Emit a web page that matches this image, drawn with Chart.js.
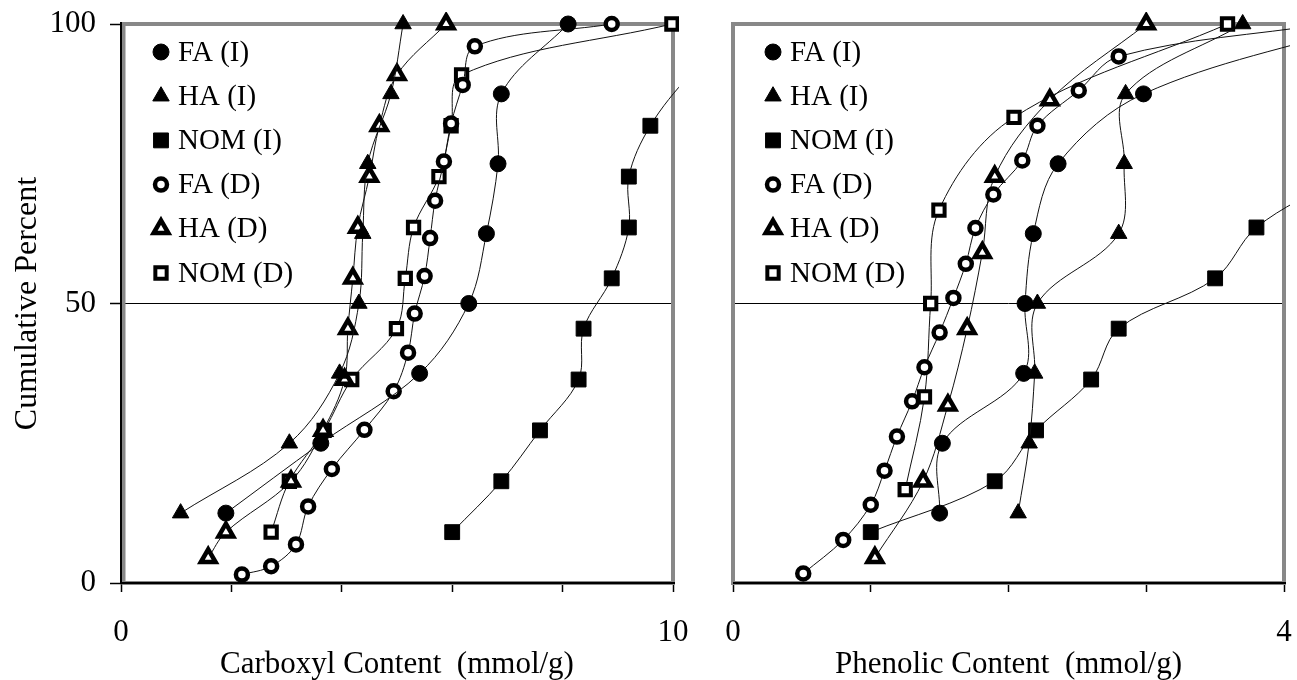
<!DOCTYPE html>
<html>
<head>
<meta charset="utf-8">
<script src="https://cdn.jsdelivr.net/npm/chart.js@4/dist/chart.umd.min.js"></script>
<style>
  html, body { margin: 0; padding: 0; background: #fff; }
  #left { position: absolute; left: 0; top: 0; width: 700px; height: 680px; }
  #right { position: absolute; left: 700px; top: 0; width: 597px; height: 680px; }
</style>
</head>
<body>
<div id="left"><canvas id="carboxylChart"></canvas></div>
<div id="right"><canvas id="phenolicChart"></canvas></div>
<script>
// series names, same order in both panels
const seriesNames = ['FA (I)', 'HA (I)', 'NOM (I)', 'FA (D)', 'HA (D)', 'NOM (D)'];

// Carboxyl content (mmol/g) vs cumulative percent, [x, y]
const carbFA_I = [[1.9, 12.5], [3.62, 25], [5.41, 37.5], [6.3, 50], [6.62, 62.5], [6.83, 75], [6.89, 87.5], [8.1, 100]];
const carbHA_I = [[1.08, 12.5], [3.05, 25], [3.96, 37.5], [4.31, 50], [4.38, 62.5], [4.47, 75], [4.89, 87.5], [5.11, 100]];
const carbNOM_I = [[6.0, 9.1], [6.89, 18.2], [7.59, 27.3], [8.29, 36.4], [8.38, 45.5], [8.89, 54.5], [9.2, 63.6], [9.2, 72.7], [9.59, 81.8], [10.3, 90.9], [11.2, 100]];
const carbFA_D = [[2.19, 1.5], [2.72, 3.0], [3.17, 6.9], [3.39, 13.7], [3.82, 20.4], [4.41, 27.4], [4.94, 34.3], [5.2, 41.2], [5.32, 48.2], [5.5, 54.9], [5.6, 61.7], [5.69, 68.4], [5.85, 75.4], [5.98, 82.2], [6.19, 89.1], [6.41, 96.0], [8.89, 100]];
const carbHA_D = [[1.58, 4.5], [1.9, 9.1], [3.08, 18.2], [3.66, 27.3], [4.05, 36.4], [4.11, 45.5], [4.2, 54.5], [4.29, 63.6], [4.5, 72.7], [4.68, 81.8], [5.0, 90.9], [5.89, 100]];
const carbNOM_D = [[2.72, 9.1], [3.05, 18.2], [3.68, 27.3], [4.18, 36.4], [4.99, 45.5], [5.15, 54.5], [5.3, 63.6], [5.76, 72.7], [5.98, 81.8], [6.17, 90.9], [9.98, 100]];

// Phenolic content (mmol/g) vs cumulative percent, [x, y]
const phenFA_I = [[1.5, 12.5], [1.52, 25], [2.11, 37.5], [2.12, 50], [2.18, 62.5], [2.36, 75], [2.98, 87.5], [4.6, 100]];
const phenHA_I = [[2.07, 12.5], [2.15, 25], [2.19, 37.5], [2.21, 50], [2.8, 62.5], [2.84, 75], [2.85, 87.5], [3.7, 100]];
const phenNOM_I = [[1.0, 9.1], [1.9, 18.2], [2.2, 27.3], [2.6, 36.4], [2.8, 45.5], [3.5, 54.5], [3.8, 63.6], [4.4, 72.7], [4.9, 81.8], [5.4, 90.9], [6.0, 100]];
const phenFA_D = [[0.51, 1.7], [0.8, 7.7], [1.0, 14], [1.1, 20.1], [1.19, 26.2], [1.3, 32.5], [1.39, 38.6], [1.5, 44.8], [1.6, 51], [1.69, 57.1], [1.76, 63.5], [1.89, 69.5], [2.1, 75.6], [2.21, 81.8], [2.51, 88.1], [2.8, 94.2], [4.3, 100]];
const phenHA_D = [[1.03, 4.5], [1.38, 18.2], [1.56, 31.8], [1.7, 45.5], [1.81, 59.1], [1.9, 72.7], [2.3, 86.4], [3.0, 100]];
const phenNOM_D = [[1.25, 16.7], [1.39, 33.3], [1.435, 50], [1.495, 66.7], [2.04, 83.3], [3.59, 100]];

// axis ranges and tick labels
const carbXTicks = [0, 10];
const phenXTicks = [0, 4];
const yTicks = [0, 50, 100];

// marker look per series
const markerStyles = [
    { shape: 'circle', r: 8, fill: '#000', bw: 1 },
    { shape: 'triangle', r: 9.5, fill: '#000', bw: 1 },
    { shape: 'rect', r: 10.5, fill: '#000', bw: 1 },
    { shape: 'circle', r: 6, fill: '#fff', bw: 4.5 },
    { shape: 'triangle', r: 8.5, fill: '#fff', bw: 4.5 },
    { shape: 'rect', r: 8, fill: '#fff', bw: 4 }
];

const serif = "'Liberation Serif', 'Times New Roman', serif";
Chart.defaults.font.family = serif;
Chart.defaults.color = '#000';

function makeSet(i, pts) {
    const s = markerStyles[i];
    return {
        label: seriesNames[i],
        data: pts.map(p => ({ x: p[0], y: p[1] })),
        showLine: true,
        borderColor: '#111',
        borderWidth: 1,
        tension: 0.35,
        pointStyle: s.shape,
        pointRadius: s.r,
        pointBackgroundColor: s.fill,
        pointBorderColor: '#000',
        pointBorderWidth: s.bw,
        clip: { left: 10, top: 12, right: 6, bottom: 10 }
    };
}

// drop the automatic label padding so the plot box lands where we want it
function noPad(s) {
    s.paddingTop = 0;
    s.paddingBottom = 0;
    s.paddingLeft = 0;
    s.paddingRight = 0;
}

// gray plot frame + black axes under the markers
const framePlugin = {
    id: 'frame',
    beforeDatasetsDraw(chart, args, opts) {
        const { ctx, chartArea: { left, top, right, bottom } } = chart;
        const inset = opts.yAxisLine ? 2.5 : 0;
        ctx.save();
        ctx.strokeStyle = '#888';
        ctx.lineWidth = 4;
        ctx.strokeRect(left + inset, top, right - left - inset, bottom - top);
        ctx.strokeStyle = '#000';
        ctx.lineWidth = 2;
        ctx.beginPath();
        ctx.moveTo(left, bottom);
        ctx.lineTo(right + 2, bottom);
        if (opts.yAxisLine) {
            ctx.moveTo(left, top - 2);
            ctx.lineTo(left, bottom + 1);
        }
        ctx.stroke();
        ctx.restore();
    }
};

// legend drawn inside the plot, top left
const innerLegend = {
    id: 'innerLegend',
    afterDraw(chart) {
        const { ctx, chartArea: { left } } = chart;
        const helpers = Chart.helpers;
        ctx.save();
        ctx.font = '29px ' + serif;
        ctx.textBaseline = 'middle';
        chart.data.datasets.forEach((ds, i) => {
            const s = markerStyles[i];
            const x = left + 40;
            const y = 52 + i * 44.2;
            ctx.fillStyle = s.fill;
            ctx.strokeStyle = '#000';
            ctx.lineWidth = s.bw;
            if (helpers && helpers.drawPoint) {
                helpers.drawPoint(ctx, { pointStyle: s.shape, radius: s.r, borderWidth: s.bw, rotation: 0 }, x, y);
            }
            ctx.fillStyle = '#000';
            ctx.fillText(ds.label, x + 17, y + 1);
        });
        ctx.restore();
    }
};

function buildChart(canvasId, sets, xMax, xLabels, showY, xTitle, chartLeft, padRight) {
    return new Chart(document.getElementById(canvasId), {
        type: 'scatter',
        data: { datasets: sets },
        plugins: [framePlugin, innerLegend],
        options: {
            responsive: true,
            maintainAspectRatio: false,
            animation: false,
            layout: { padding: { top: 24, right: padRight, left: 0, bottom: 0 } },
            plugins: {
                legend: { display: false },
                tooltip: { enabled: false },
                frame: { yAxisLine: showY }
            },
            scales: {
                x: {
                    type: 'linear',
                    min: 0,
                    max: xMax,
                    afterFit: s => { s.height = 97; noPad(s); },
                    border: { display: false },
                    grid: { drawOnChartArea: false, drawTicks: true, tickLength: 9, tickWidth: 1.5, tickColor: '#000' },
                    ticks: {
                        stepSize: xMax === 10 ? 2 : 1,
                        padding: 22,
                        maxRotation: 0,
                        font: { size: 31, family: serif },
                        callback: v => (xLabels.includes(v) ? String(v) : '')
                    },
                    title: {
                        display: true,
                        text: xTitle,
                        padding: 0,
                        font: { size: 31, family: serif, lineHeight: 1 }
                    }
                },
                y: {
                    type: 'linear',
                    min: 0,
                    max: 100,
                    afterFit: s => { s.width = chartLeft; noPad(s); },
                    border: { display: false },
                    grid: {
                        drawOnChartArea: true,
                        drawTicks: showY,
                        tickLength: 11,
                        tickWidth: 1.5,
                        tickColor: '#000',
                        lineWidth: 1,
                        color: c => (c.tick && c.tick.value === 50 ? '#000' : 'rgba(0,0,0,0)')
                    },
                    ticks: {
                        display: showY,
                        stepSize: 50,
                        padding: 14,
                        font: { size: 31, family: serif },
                        callback: v => (yTicks.includes(v) ? String(v) : '')
                    },
                    title: {
                        display: showY,
                        text: 'Cumulative Percent',
                        padding: { top: 12, bottom: 0 },
                        font: { size: 32, family: serif, lineHeight: 1 }
                    }
                }
            }
        }
    });
}

document.addEventListener('DOMContentLoaded', () => {
    const carbSets = [carbFA_I, carbHA_I, carbNOM_I, carbFA_D, carbHA_D, carbNOM_D].map((pts, i) => makeSet(i, pts));
    const phenSets = [phenFA_I, phenHA_I, phenNOM_I, phenFA_D, phenHA_D, phenNOM_D].map((pts, i) => makeSet(i, pts));

    buildChart('carboxylChart', carbSets, 10, carbXTicks, true, 'Carboxyl Content  (mmol/g)', 121, 27);
    buildChart('phenolicChart', phenSets, 4, phenXTicks, false, 'Phenolic Content  (mmol/g)', 33, 11);
});
</script>
</body>
</html>
